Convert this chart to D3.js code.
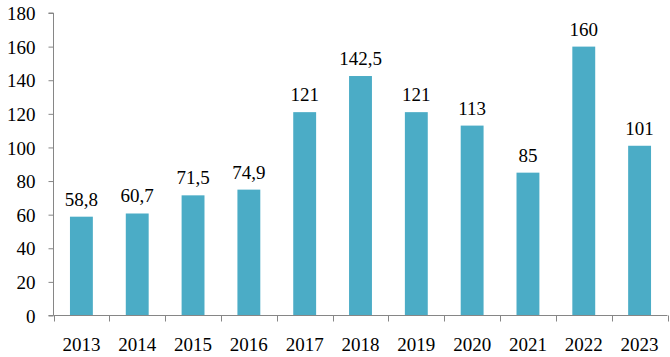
<!DOCTYPE html>
<html><head><meta charset="utf-8">
<script src="https://cdn.jsdelivr.net/npm/d3@7"></script>
<style>body{margin:0;background:#fff}</style>
</head><body><svg id="c" width="670" height="357"></svg>
<script>
const years = ["2013","2014","2015","2016","2017","2018","2019","2020","2021","2022","2023"];
const values = [58.8,60.7,71.5,74.9,121,142.5,121,113,85,160,101];
const labels = ["58,8","60,7","71,5","74,9","121","142,5","121","113","85","160","101"];
const yTicks = [0,20,40,60,80,100,120,140,160,180];
const FONT = "'Liberation Serif', serif";

const svg = d3.select("#c");
const m = {l:53.5, r:667.5, t:13, b:315.5};
const x = d3.scaleBand().domain(years).range([m.l, m.r]).paddingInner(0.59).paddingOuter(0.295);
const xb = d3.scaleBand().domain(years).range([m.l, m.r]);
const y = d3.scaleLinear().domain([0,180]).range([m.b, m.t]);

svg.selectAll("rect.bar").data(values).enter().append("rect")
  .attr("x",(d,i)=>x(years[i])).attr("width",x.bandwidth())
  .attr("y",d=>y(d)).attr("height",d=>m.b-y(d)).attr("fill","#4bacc6");

svg.selectAll("text.v").data(values).enter().append("text")
  .attr("x",(d,i)=>x(years[i])+x.bandwidth()/2).attr("y",d=>y(d)-11)
  .attr("text-anchor","middle").style("font-family",FONT).style("font-size","19px").text((d,i)=>labels[i]);

const ya = svg.append("g").attr("transform",`translate(${m.l},0)`)
  .call(d3.axisLeft(y).tickValues(yTicks).tickSize(5).tickPadding(13));
ya.attr("font-family",null).attr("font-size",null);
ya.select(".domain").attr("stroke","#868686").attr("d",`M-5,${m.t}H0V${m.b}H-5`);
ya.selectAll(".tick line").attr("stroke","#868686");
ya.selectAll(".tick text").style("font-family",FONT).style("font-size","19px").attr("fill","#000").attr("dy","0.35em");

const xa = svg.append("g").attr("transform",`translate(0,${m.b})`);
xa.append("line").attr("x1",m.l).attr("x2",m.r).attr("stroke","#868686");
const bounds = years.map(d=>xb(d)).concat([m.r]);
xa.selectAll("line.t").data(bounds).enter().append("line")
  .attr("x1",d=>Math.round(d)+0.5).attr("x2",d=>Math.round(d)+0.5).attr("y1",0).attr("y2",6).attr("stroke","#868686");
xa.selectAll("text").data(years).enter().append("text")
  .attr("x",d=>xb(d)+xb.bandwidth()/2).attr("y",35).attr("text-anchor","middle")
  .style("font-family",FONT).style("font-size","19px").text(d=>d);
</script></body></html>
